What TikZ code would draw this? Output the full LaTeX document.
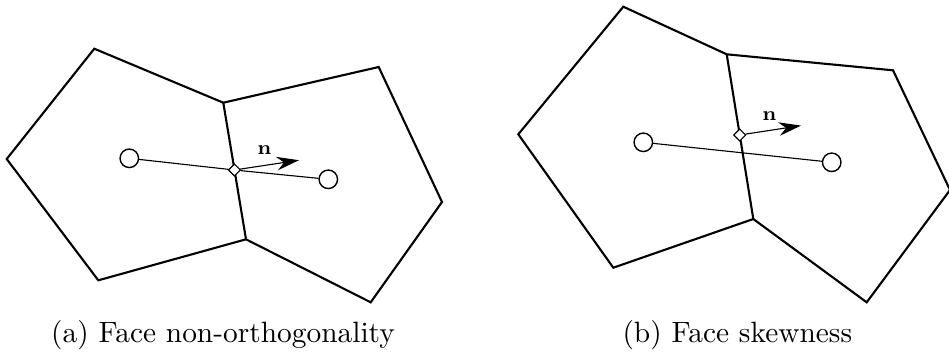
\documentclass[tikz,border=0pt]{standalone}
\usepackage{amsmath}
\usetikzlibrary{arrows.meta, calc, positioning, shapes.geometric}

\begin{document}
\begin{tikzpicture}[
    x=0.357pt, y=-0.357pt,
    >={Stealth[length=2.8mm,width=1.7mm]},
    cell/.style={line width=0.75pt, line join=miter},
    centre/.style={circle, draw, fill=white, minimum size=6.6pt, inner sep=0pt, line width=0.5pt},
    facept/.style={diamond, draw, fill=white, minimum size=4.4pt, inner sep=0pt, line width=0.4pt},
    link/.style={line width=0.4pt},
    every node/.style={font=\fontsize{10.5}{12}\selectfont},
]
\useasboundingbox (0,0) rectangle (949,353);
%% (a) non-orthogonal face
\coordinate (fa1) at (223.3,102.7);
\coordinate (fa2) at (246,239.3);
\draw[cell] (fa1) -- (94.3,48.7) -- (6.7,159) -- (98.3,280.3) -- (fa2);
\draw[cell] (fa1) -- (378.7,67) -- (442,202) -- (370.7,302.3) -- (fa2);
\draw[cell] (fa1) -- (fa2);
\node[centre] (Pa) at (129.3,158.3) {};
\node[centre] (Na) at (328.3,179.3) {};
\node[facept] (fa) at (234.4,170) {};
\draw[link] (Pa) -- (fa) -- (Na);
% face normal
\coordinate (na) at (299,160.2);
\draw[link, ->] (fa) -- (na);
\node[font=\fontsize{7.5}{9}\selectfont] (nla) at (264.3,150.5) {$\mathbf{n}$};
\node (capa) at (223,335) {(a) Face non-orthogonality};
%% (b) skewed face
\coordinate (fb1) at (726.7,54.3);
\coordinate (fb2) at (753.3,219);
\draw[cell] (fb1) -- (623.3,6.7) -- (518.3,134.3) -- (613.3,267.7) -- (fb2);
\draw[cell] (fb1) -- (893,70.3) -- (950,190) -- (866.7,302.3) -- (fb2);
\draw[cell] (fb1) -- (fb2);
\node[centre] (Pb) at (643.3,142.3) {};
\node[centre] (Nb) at (831.7,162.3) {};
\node[facept] (fb) at (739.7,135) {};
\draw[link] (Pb) -- (Nb);
% face normal
\coordinate (nb) at (801,125.6);
\draw[link, ->] (fb) -- (nb);
\node[font=\fontsize{7.5}{9}\selectfont] (nlb) at (769.3,116.5) {$\mathbf{n}$};
\node (capb) at (737.3,335) {(b) Face skewness};
\end{tikzpicture}
\end{document}
